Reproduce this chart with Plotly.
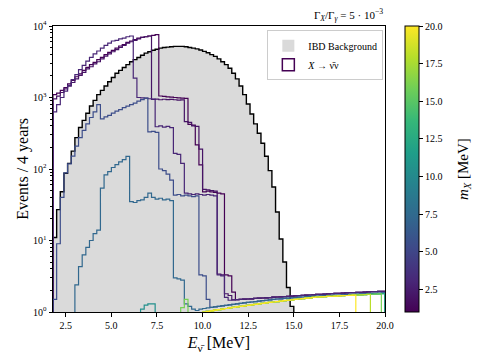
import plotly.graph_objects as go
from plotly.colors import sample_colorscale

# ---------------- data ----------------
E_MIN, BIN_W, N_BINS = 1.8, 0.2, 91
edges = [round(E_MIN + BIN_W * i, 4) for i in range(N_BINS + 1)]

# IBD background counts per bin (from 1.8 MeV)
ibd_counts = [11, 27, 48, 87, 120, 178, 275, 380, 479, 603, 759, 912, 1096, 1259,
              1445, 1660, 1905, 2188, 2399, 2630, 2884, 3162, 3388, 3631, 3890,
              4169, 4365, 4571, 4732, 4898, 5012, 5070, 5129, 5188, 5188, 5188,
              5129, 5012, 4898, 4786, 4624, 4416, 4217, 3981, 3758, 3467, 3162,
              2884, 2570, 2188, 1820, 1445, 1096, 813, 589, 427, 316, 229, 151,
              95, 56, 25, 10.5, 5.0, 2.2, 1.2]

# high-energy tails (bins from 9.8 MeV)
tail_hi = [1.38, 1.39, 1.40, 1.41, 1.42, 1.43, 1.44, 1.45, 1.46, 1.48,
           1.49, 1.50, 1.51, 1.52, 1.53, 1.55, 1.56, 1.57, 1.58, 1.59,
           1.61, 1.62, 1.63, 1.64, 1.66, 1.67, 1.68, 1.69, 1.71, 1.72,
           1.73, 1.74, 1.76, 1.77, 1.78, 1.79, 1.81, 1.82, 1.83, 1.84,
           1.85, 1.86, 1.87, 1.88, 1.89, 1.90, 1.91, 1.92, 1.93, 1.94, 1.95]
tail_mid = [1.10, 1.12, 1.14, 1.16, 1.18, 1.20, 1.22, 1.24, 1.26, 1.28,
            1.30, 1.32, 1.34, 1.36, 1.38, 1.40, 1.42, 1.44, 1.46, 1.48,
            1.50, 1.52, 1.53, 1.55, 1.56, 1.58, 1.59, 1.61, 1.62, 1.64,
            1.65, 1.66, 1.67, 1.68, 1.69, 1.70, 1.71, 1.72, 1.73, 1.74,
            1.75, 1.76, 1.77, 1.78, 1.79, 1.80, 1.81, 1.82, 1.83, 1.84, 1.85]
tail_lo = [0.98, 1.00, 1.02, 1.04, 1.06, 1.08, 1.10, 1.12, 1.14, 1.16,
           1.18, 1.20, 1.22, 1.24, 1.26, 1.28, 1.30, 1.32, 1.34, 1.36,
           1.38, 1.40, 1.42, 1.44, 1.46, 1.48, 1.50, 1.52, 1.54, 1.56,
           1.58, 1.60, 1.62, 1.63, 1.64, 1.65, 1.66, 1.67, 1.68, 1.69,
           1.70, 1.71, 1.72, 1.73, 1.74, 1.75, 1.76, 1.77, 1.78, 1.79, 1.80]

sig_m1 = ([1096, 1148, 1259, 1380, 1549, 1738, 1950, 2138, 2399, 2630, 2884, 3090,
           3388, 3631, 3981, 4266, 4571, 4898, 5248, 5495, 5888, 6166, 6457, 6761,
           6918, 7079, 7244, 7413, 7586]
          + [1050, 1040, 1020, 1010, 1000, 990, 980, 970]
          + [420, 410, 218, 114]
          + [48, 49, 48, 47, 46, 45]
          + [3.3, 3.2, 1.9] + tail_hi[10:])
sig_m2 = ([955, 1047, 1175, 1318, 1445, 1622, 1820, 2042, 2239, 2512, 2692, 2951,
           3162, 3467, 3802, 4074, 4365, 4677, 5012, 5370, 5754, 6026, 6310, 6607,
           6918, 7079, 7244]
          + [940, 950, 930, 945, 935, 940, 930, 920, 925]
          + [460, 450, 400, 395, 190]
          + [52, 51, 50, 49]
          + [3.4, 3.3, 1.8, 1.7] + tail_hi[9:])
sig_m3 = ([631, 794, 1000, 1230, 1479, 1778, 2089, 2455, 2818, 3236, 3631, 4074,
           4467, 4898, 5370, 5754, 6166, 6310, 6607, 6761, 7079, 7244]
          + [1870, 1000, 990, 980, 960, 950]
          + [390, 400, 385, 395, 380, 165, 160, 120]
          + [46, 45, 44, 45, 44, 43, 44, 43, 42]
          + [3.3, 3.2, 1.6] + tail_hi[8:])
sig_m5 = ([1.5, 9, 40, 88, 118, 151, 209, 275, 347, 427, 525, 631, 794,
           501, 537, 562, 603, 646, 676, 724, 759, 794, 832, 891, 933, 977]
          + [330, 335, 325, 100, 95, 85, 70]
          + [43, 44, 42, 43, 42, 41, 42]
          + [3.3, 3.2, 1.5] + tail_mid[3:])
sig_m7 = ([2.4, 4.3, 6.3, 8, 10, 12.5, 14, 54, 83, 92, 105, 115, 126, 135, 150]
          + [35, 34, 36, 37, 40, 46, 40, 38, 39, 37, 38, 36]
          + [3.0, 2.9, 2.8, 1.3, 1.2, 1.1, 1.05] + tail_mid)
sig_m10 = [1.1, 1.25, 1.3, 1.3] + [0] * 14 + tail_lo[2:]
sig_m13 = [0] + tail_lo[1:]
sig_m16 = [1.15, 1.5, 0, 0, 0, 0] + tail_lo[1:50]
sig_m18 = tail_lo[0:47]
sig_m20 = tail_lo[0:43]

signal_masses = [1.0, 2.0, 3.0, 5.5, 7.3, 10.5, 13.0, 16.0, 18.0, 20.0]
signal_starts = [0, 0, 0, 0, 6, 24, 40, 35, 40, 40]
signal_counts = [sig_m1, sig_m2, sig_m3, sig_m5, sig_m7, sig_m10, sig_m13,
                 sig_m16, sig_m18, sig_m20]

x_ticks = [2.5, 5.0, 7.5, 10.0, 12.5, 15.0, 17.5, 20.0]
y_ticks = [1, 10, 100, 1000, 10000]
cbar_ticks = [2.5, 5.0, 7.5, 10.0, 12.5, 15.0, 17.5, 20.0]
M_MIN, M_MAX = 1.0, 20.0

# ---------------- helpers ----------------
FLOOR = 0.05


def step_xy(start, vals):
    xs = [edges[start]]
    ys = [FLOOR]
    for i, v in enumerate(vals):
        xs.append(edges[start + i])
        ys.append(v if v > 0 else FLOOR)
    xs.append(edges[start + len(vals)])
    ys.append(FLOOR)
    return xs, ys


FONT = "Liberation Serif"
fig = go.Figure()

bx, by = step_xy(0, ibd_counts)
fig.add_trace(go.Scatter(x=bx, y=by, mode="lines", line_shape="hv",
                         fill="toself", fillcolor="#dadada",
                         line=dict(width=0, color="#dadada"),
                         showlegend=False, hoverinfo="skip"))
fig.add_trace(go.Scatter(x=bx, y=by, mode="lines", line_shape="hv",
                         line=dict(width=1.4, color="black"),
                         showlegend=False, hoverinfo="skip"))

for m, s, vals in zip(signal_masses, signal_starts, signal_counts):
    col = sample_colorscale("Viridis", [(m - M_MIN) / (M_MAX - M_MIN)])[0]
    sx, sy = step_xy(s, vals)
    fig.add_trace(go.Scatter(x=sx, y=sy, mode="lines", line_shape="hv",
                             line=dict(width=1.2, color=col),
                             showlegend=False, hoverinfo="skip"))

# legend entries (patches)
fig.add_trace(go.Bar(x=[40], y=[1e6], name="IBD Background",
                     marker=dict(color="#dadada", line=dict(width=0)),
                     hoverinfo="skip"))
fig.add_trace(go.Bar(x=[40], y=[1e6], name="<i>X</i> → ν̄ν",
                     marker=dict(color="white",
                                 line=dict(width=1.5, color="#440154")),
                     hoverinfo="skip"))

# colorbar
fig.add_trace(go.Scatter(
    x=[40, 40], y=[1e6, 1e6], mode="markers", showlegend=False,
    hoverinfo="skip",
    marker=dict(color=[M_MIN, M_MAX], colorscale="Viridis", cmin=M_MIN,
                cmax=M_MAX, size=1, showscale=True,
                colorbar=dict(x=1.06, xanchor="left", y=0.5, yanchor="middle",
                              len=1.0, lenmode="fraction", thickness=14,
                              ypad=0, xpad=0, outlinewidth=1,
                              outlinecolor="black",
                              tickvals=cbar_ticks,
                              ticktext=[f"{t:.1f}" for t in cbar_ticks],
                              ticks="outside", ticklen=4, tickcolor="black",
                              tickfont=dict(family=FONT, size=10, color="black")))))

minor_vals = [d * 10 ** e for e in range(0, 4) for d in range(2, 10)]

# the page body adds an 8 px offset, so margins are reduced by 8 px
fig.update_layout(
    width=482, height=361,
    margin=dict(l=45, r=105, t=18, b=57, autoexpand=False),
    plot_bgcolor="white", paper_bgcolor="white",
    font=dict(family=FONT, color="black"),
    showlegend=True,
    xaxis=dict(range=[1.8, 20], showline=True, mirror=True, linecolor="black",
               linewidth=1, ticks="outside", ticklen=3.5, tickcolor="black",
               tickvals=x_ticks, ticktext=[f"{t:.1f}" for t in x_ticks],
               tickfont=dict(size=10), showgrid=False, zeroline=False,
               automargin=False,
               title=dict(text="<i>E</i><sub>ν̄</sub> [MeV]",
                          font=dict(size=16), standoff=7)),
    yaxis=dict(type="log", range=[0, 4], showline=True, mirror=True,
               linecolor="black", linewidth=1, ticks="outside", ticklen=3.5,
               tickcolor="black", tickvals=y_ticks,
               ticktext=["10<sup>0</sup>", "10<sup>1</sup>", "10<sup>2</sup>",
                         "10<sup>3</sup>", "10<sup>4</sup>"],
               tickfont=dict(size=10), showgrid=False, zeroline=False,
               automargin=False,
               minor=dict(tickvals=minor_vals, ticks="outside", ticklen=2,
                          tickcolor="black", showgrid=False),
               title=dict(text="Events / 4 years", font=dict(size=16),
                          standoff=0)),
    legend=dict(x=0.995, xanchor="right", y=0.985, yanchor="top",
                bgcolor="white", bordercolor="#cccccc", borderwidth=1,
                font=dict(size=10), tracegroupgap=0, itemwidth=30),
    annotations=[
        dict(text="Γ<sub><i>X</i></sub>/Γ<sub><i>γ</i></sub> = 5 · 10<sup>−3</sup>",
             x=1, y=1, xref="paper", yref="paper", xanchor="right",
             yanchor="bottom", yshift=1, showarrow=False, font=dict(size=11)),
        dict(text="<i>m</i><sub><i>X</i></sub> [MeV]", x=1.238, y=0.5,
             xref="paper", yref="paper", xanchor="center", yanchor="middle",
             textangle=-90, showarrow=False, font=dict(size=15)),
    ],
)

fig.write_html("out.html")
